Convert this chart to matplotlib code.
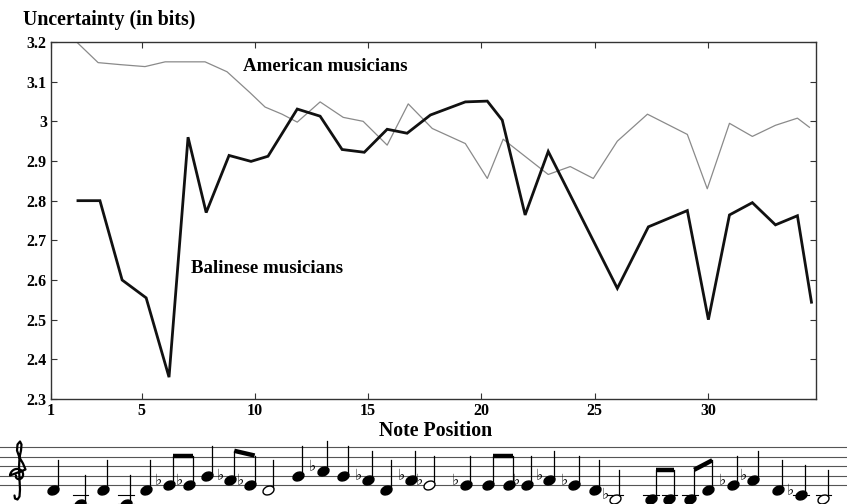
import matplotlib
matplotlib.use("Agg")
import numpy as np
import matplotlib.pyplot as plt
from matplotlib.markers import MarkerStyle
from matplotlib.transforms import Affine2D

# chart data
bali_pos = [2.19, 3.16, 4.14, 5.20, 6.21, 7.05, 7.85, 8.86, 9.83, 10.58, 11.87, 12.88,
            13.85, 14.83, 15.84, 16.72, 17.75, 19.29, 20.26, 20.92, 21.93, 22.95,
            26.0, 27.37, 29.09, 30.02, 30.95, 31.96, 32.98, 33.95, 34.57]
bali_vals = [2.80, 2.80, 2.60, 2.555, 2.355, 2.96, 2.77, 2.914, 2.899, 2.912, 3.031, 3.013,
             2.929, 2.922, 2.98, 2.97, 3.016, 3.049, 3.051, 3.003, 2.764, 2.924,
             2.579, 2.734, 2.775, 2.50, 2.764, 2.795, 2.739, 2.762, 2.544]

amer_pos = [2.06, 3.08, 4.05, 5.15, 6.04, 6.92, 7.80, 8.77, 9.79, 10.45, 11.2, 11.87,
            12.88, 13.9, 14.78, 15.84, 16.77, 17.83, 19.29, 20.26, 20.96, 22.95,
            23.92, 24.94, 26.0, 27.33, 29.09, 29.97, 30.95, 31.96, 32.98, 33.95, 34.48]
amer_vals = [3.204, 3.148, 3.143, 3.138, 3.15, 3.15, 3.15, 3.125, 3.072, 3.036, 3.018, 2.998,
             3.049, 3.01, 3.0, 2.94, 3.044, 2.982, 2.944, 2.856, 2.955, 2.866,
             2.886, 2.856, 2.95, 3.018, 2.967, 2.83, 2.995, 2.962, 2.99, 3.008, 2.985]

x_ticks = [1, 5, 10, 15, 20, 25, 30]
y_ticks = [2.3, 2.4, 2.5, 2.6, 2.7, 2.8, 2.9, 3.0, 3.1, 3.2]
y_labels = ['2.3', '2.4', '2.5', '2.6', '2.7', '2.8', '2.9', '3', '3.1', '3.2']

# melody under the chart: position, staff step (0 = bottom line), flat, half note
note_pos = [1.1, 2.3, 3.3, 4.3, 5.2, 6.2, 7.1, 7.9, 8.9, 9.8, 10.6, 11.9, 13.0, 13.9,
            15.0, 15.8, 16.9, 17.7, 19.3, 20.3, 21.2, 22.0, 23.0, 24.1, 25.0, 25.9,
            27.5, 28.3, 29.2, 30.0, 31.1, 32.0, 33.1, 34.1, 35.1]
note_step = [-1, -4, -1, -4, -1, 0, 0, 2, 1, 0, -1, 2, 3, 2, 1, -1, 1, 0, 0, 0, 0, 0,
             1, 0, -1, -3, -3, -3, -3, -1, 0, 1, -1, -2, -3]
note_flat = [6, 7, 9, 10, 13, 15, 17, 18, 19, 22, 23, 24, 26, 31, 32, 34]
note_half = [11, 18, 26, 35]
beams = [(6, 7), (9, 10), (20, 21), (27, 28), (29, 30)]

X_MIN, X_MAX = 1, 34.77
W, H = 847, 504
ax_l, ax_r, ax_t, ax_b = 51, 816, 42, 399

serif = 'Liberation Serif'

fig = plt.figure(figsize=(W / 100, H / 100), dpi=100)
ax = fig.add_axes([ax_l / W, 1 - ax_b / H, (ax_r - ax_l) / W, (ax_b - ax_t) / H])

ax.plot(amer_pos, amer_vals, color='#8a8a8a', lw=0.9)
ax.plot(bali_pos, bali_vals, color='#111111', lw=2.0, solid_joinstyle='miter')

ax.set_xlim(X_MIN, X_MAX)
ax.set_ylim(2.3, 3.2)
ax.set_xticks(x_ticks)
ax.set_yticks(y_ticks)
ax.set_yticklabels(y_labels)
ax.tick_params(direction='in', length=4, width=0.8, top=True, right=True,
               labelsize=11.5, pad=3, color='#333333')
for lab in ax.get_xticklabels() + ax.get_yticklabels():
    lab.set_fontfamily(serif)
    lab.set_fontweight('bold')
for s in ax.spines.values():
    s.set_linewidth(1.0)
    s.set_color('#333333')

ax.text(9.48, 3.137, 'American musicians', family=serif, weight='bold', fontsize=13.6,
        va='center', ha='left')
ax.text(7.2, 2.63, 'Balinese musicians', family=serif, weight='bold', fontsize=13.6,
        va='center', ha='left')
fig.text(23 / W, 1 - 20 / H, 'Uncertainty (in bits)', family=serif, weight='bold',
         fontsize=14.3, va='center', ha='left')
fig.text(436 / W, 1 - 431 / H, 'Note Position', family=serif, weight='bold',
         fontsize=14.3, va='center', ha='center')

# staff below the chart, sharing the note-position scale
ppu = (ax_r - ax_l) / (X_MAX - X_MIN)
step_px = 4.75
staff_top_px, bottom_line_px = 438, 485
sx = fig.add_axes([0, 0, 1, (H - staff_top_px) / H])
sx.set_xlim(X_MIN - ax_l / ppu, X_MAX + (W - ax_r) / ppu)
sx.set_ylim(-(H - bottom_line_px) / step_px, (bottom_line_px - staff_top_px) / step_px)
sx.axis('off')

for k in range(5):
    sx.axhline(2 * k, color='#555555', lw=0.8)

# treble clef (no installed font has the glyph), drawn as a curve around the G line
th = np.linspace(np.pi, 3 * np.pi, 60)
r = np.linspace(2.0, 8.0, 60)
cx = list(r * np.cos(th))
cy = list(r * np.sin(th))
cx += [7.5, 5, 1.5, -1, -0.5, 2, 3.5, 3, 1.5, 1, 1.5, 2, 1.5, -0.5, -3, -3.5]
cy += [6, 12, 18, 25, 31, 34, 31, 25, 18, 8, -4, -14, -21, -24, -23, -20]
clef_x = X_MIN - ax_l / ppu + 18 / ppu
sx.plot(clef_x + np.array(cx) / ppu, 2 + np.array(cy) / step_px, color='black',
        lw=1.6, solid_capstyle='round')

head = MarkerStyle('o', transform=Affine2D().scale(1.25, 0.9).rotate_deg(25))
for i, (p, st) in enumerate(zip(note_pos, note_step), start=1):
    hollow = i in note_half
    sx.scatter([p], [st], s=44, marker=head,
               facecolor='white' if hollow else 'black', edgecolor='black',
               linewidth=1.0, zorder=3)
    sx.plot([p + 0.19, p + 0.19], [st + 0.2, st + 6.2], color='black', lw=0.9)
    for ledger in range(-2, st - 1, -2):
        sx.plot([p - 0.35, p + 0.35], [ledger, ledger], color='black', lw=0.8)
    if i in note_flat:
        sx.text(p - 0.45, st + 0.9, '\u266d', family='DejaVu Sans', fontsize=11,
                va='center', ha='center')

for a, b in beams:
    pa, pb = note_pos[a - 1] + 0.19, note_pos[b - 1] + 0.19
    ya, yb = note_step[a - 1] + 6.2, note_step[b - 1] + 6.2
    sx.plot([pa, pb], [ya, yb], color='black', lw=3.2, solid_capstyle='butt')

fig.savefig('out.png', dpi=100)
